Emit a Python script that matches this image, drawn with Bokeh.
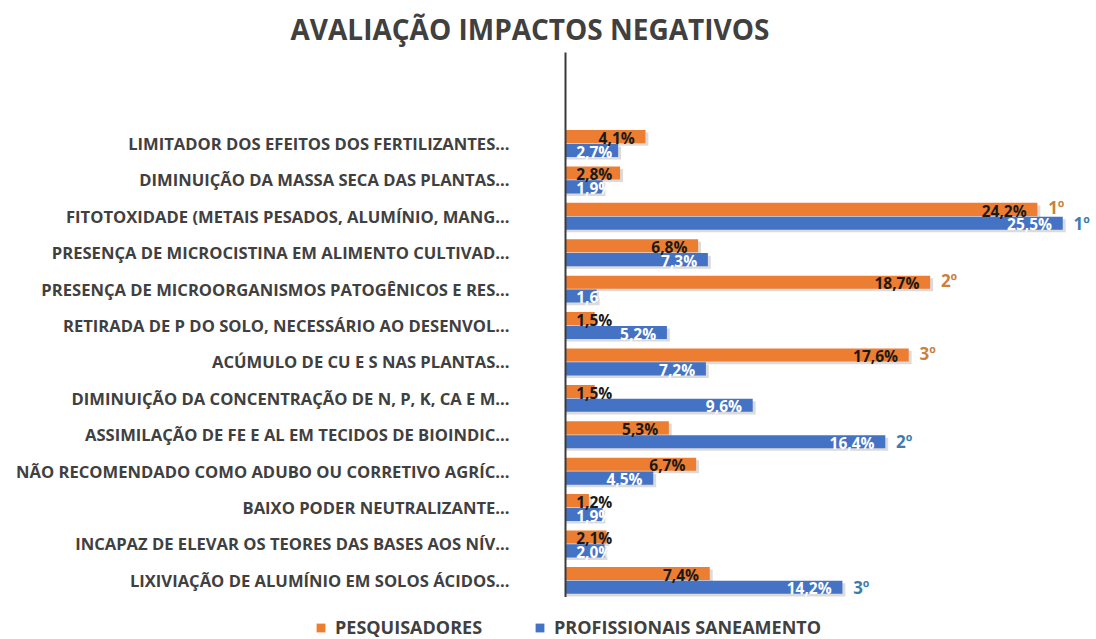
from bokeh.plotting import figure
from bokeh.layouts import column
from bokeh.models import ColumnDataSource, Range1d, FixedTicker, Legend, LegendItem
from bokeh.transform import dodge
from bokeh.core.properties import value
from bokeh.embed import file_html
from bokeh.resources import INLINE

categories = [
    "LIMITADOR DOS EFEITOS DOS FERTILIZANTES...",
    "DIMINUIÇÃO DA MASSA SECA DAS PLANTAS...",
    "FITOTOXIDADE (METAIS PESADOS, ALUMÍNIO, MANG...",
    "PRESENÇA DE MICROCISTINA EM ALIMENTO CULTIVAD...",
    "PRESENÇA DE MICROORGANISMOS PATOGÊNICOS E RES...",
    "RETIRADA DE P DO SOLO, NECESSÁRIO AO DESENVOL...",
    "ACÚMULO DE CU E S NAS PLANTAS...",
    "DIMINUIÇÃO DA CONCENTRAÇÃO DE N, P, K, CA E M...",
    "ASSIMILAÇÃO DE FE E AL EM TECIDOS DE BIOINDIC...",
    "NÃO RECOMENDADO COMO ADUBO OU CORRETIVO AGRÍC...",
    "BAIXO PODER NEUTRALIZANTE...",
    "INCAPAZ DE ELEVAR OS TEORES DAS BASES AOS NÍV...",
    "LIXIVIAÇÃO DE ALUMÍNIO EM SOLOS ÁCIDOS...",
]
pesquisadores = [4.1, 2.8, 24.2, 6.8, 18.7, 1.5, 17.6, 1.5, 5.3, 6.7, 1.2, 2.1, 7.4]
profissionais = [2.7, 1.9, 25.5, 7.3, 1.6, 5.2, 7.2, 9.6, 16.4, 4.5, 1.9, 2.0, 14.2]
rank_pesq = ["", "", "1º", "", "2º", "", "3º", "", "", "", "", "", ""]
rank_prof = ["", "", "1º", "", "", "", "", "", "2º", "", "", "", "3º"]
series_names = ["PESQUISADORES", "PROFISSIONAIS SANEAMENTO"]

ORANGE = "#ED7D31"
BLUE = "#4472C4"
GRAY = "#404040"
FONT = "Open Sans"

def fmt(v):
    return f"{v:.1f}".replace(".", ",") + "%"

idx = list(range(len(categories)))
src = ColumnDataSource(dict(
    y=idx,
    pesq=pesquisadores,
    prof=profissionais,
    pesq_lbl=[fmt(v) for v in pesquisadores],
    prof_lbl=[fmt(v) for v in profissionais],
    pesq_lx=[max(v - 0.55, 2.4) for v in pesquisadores],
    prof_lx=[max(v - 0.55, 2.4) for v in profissionais],
    pesq_rx=[v + 0.55 for v in pesquisadores],
    prof_rx=[v + 0.55 for v in profissionais],
    rank_pesq=rank_pesq,
    rank_prof=rank_prof,
))

p = figure(width=1096, height=597, output_backend="svg", toolbar_location=None,
           x_range=Range1d(0, 27.23), y_range=Range1d(12.47, -2.5),
           min_border_left=565, min_border_right=0, min_border_top=52, min_border_bottom=0)

OFF = 0.19
H = 0.36
# soft shadows
p.hbar(y=dodge("y", -OFF + 0.07), left=0, right=dodge("pesq", 0.15), height=H, source=src,
       fill_color="#bdbdbd", fill_alpha=0.55, line_color=None)
p.hbar(y=dodge("y", OFF + 0.07), left=0, right=dodge("prof", 0.15), height=H, source=src,
       fill_color="#bdbdbd", fill_alpha=0.55, line_color=None)

p.hbar(y=dodge("y", -OFF), left=0, right="pesq", height=H, source=src,
       fill_color=ORANGE, line_color=None)
p.hbar(y=dodge("y", OFF), left=0, right="prof", height=H, source=src,
       fill_color=BLUE, line_color=None)

p.text(x="pesq_lx", y=dodge("y", -OFF + 0.03), text="pesq_lbl", source=src,
       text_align="right", text_baseline="middle", text_font=value(FONT),
       text_font_style="bold", text_font_size="15.5px", text_color="#1a1a1a")
p.text(x="prof_lx", y=dodge("y", OFF + 0.03), text="prof_lbl", source=src,
       text_align="right", text_baseline="middle", text_font=value(FONT),
       text_font_style="bold", text_font_size="15.5px", text_color="white")

p.text(x="pesq_rx", y=dodge("y", -OFF - 0.05), text="rank_pesq", source=src,
       text_align="left", text_baseline="middle", text_font=value(FONT),
       text_font_style="bold", text_font_size="17px", text_color="#C8823E")
p.text(x="prof_rx", y=dodge("y", OFF), text="rank_prof", source=src,
       text_align="left", text_baseline="middle", text_font=value(FONT),
       text_font_style="bold", text_font_size="17px", text_color="#3D7DAE")

p.xaxis.visible = False
p.xgrid.visible = False
p.ygrid.visible = False
p.outline_line_color = None

ya = p.yaxis[0]
ya.ticker = FixedTicker(ticks=idx)
ya.major_label_overrides = {i: c for i, c in enumerate(categories)}
ya.major_tick_line_color = None
ya.minor_tick_line_color = None
ya.major_tick_out = 0
ya.major_tick_in = 0
ya.major_label_standoff = 56
ya.axis_line_color = "#3a3a3a"
ya.axis_line_width = 2
ya.major_label_text_font = FONT
ya.major_label_text_font_style = "bold"
ya.major_label_text_font_size = "16.6px"
ya.major_label_text_color = GRAY

p.title.text = "AVALIAÇÃO IMPACTOS NEGATIVOS"
p.title.align = "left"
p.title.offset = -275
p.title.text_font = FONT
p.title.text_font_style = "bold"
p.title.text_font_size = "28px"
p.title.text_color = GRAY

# legend strip below the chart (its swatch renderers sit outside the visible range)
lg = figure(width=1096, height=42, output_backend="svg", toolbar_location=None,
            x_range=Range1d(0, 1), y_range=Range1d(0, 1),
            min_border_left=0, min_border_right=0, min_border_top=0, min_border_bottom=0)
lg.frame_align = False
lg.axis.visible = False
lg.grid.visible = False
lg.outline_line_color = None
swatch = ColumnDataSource(dict(y=[-5], right=[0.5]))
s1 = lg.hbar(y="y", right="right", left=0, height=0.5, source=swatch, fill_color=ORANGE, line_color=None)
s2 = lg.hbar(y="y", right="right", left=0, height=0.5, source=swatch, fill_color=BLUE, line_color=None)

legend = Legend(items=[LegendItem(label=series_names[0], renderers=[s1]),
                       LegendItem(label=series_names[1], renderers=[s2])],
                orientation="horizontal", location=(315, 0),
                label_text_font=FONT, label_text_font_style="bold",
                label_text_font_size="18px", label_text_color=GRAY,
                glyph_width=11, glyph_height=11, spacing=52, label_standoff=9,
                border_line_color=None, background_fill_alpha=0, padding=2, margin=0)
lg.add_layout(legend, "center")

layout = column(p, lg, spacing=0)
open("out.html", "w").write(file_html(layout, INLINE))
